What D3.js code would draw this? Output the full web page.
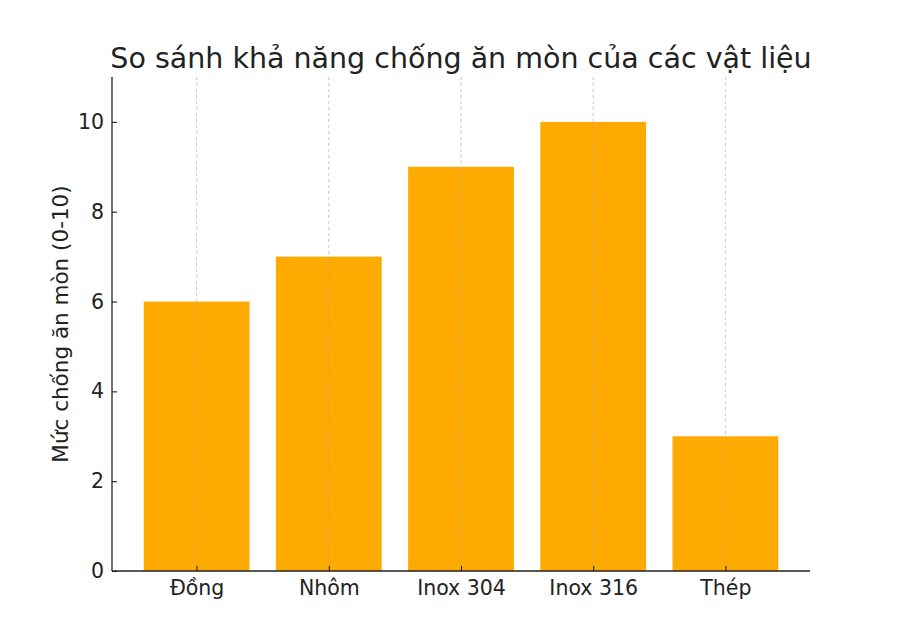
<!DOCTYPE html>
<html><head><meta charset="utf-8">
<script src="https://cdn.jsdelivr.net/npm/d3@7"></script>
<style>body{margin:0;background:#fff}</style>
</head><body>
<svg id="c" width="900" height="642"></svg>
<script>
const categories = ["Đồng", "Nhôm", "Inox 304", "Inox 316", "Thép"];
const values = [6, 7, 9, 10, 3];
const yTicks = [0, 2, 4, 6, 8, 10];
const title = "So sánh khả năng chống ăn mòn của các vật liệu";
const yLabel = "Mức chống ăn mòn (0-10)";

const svg = d3.select("#c");
const font = "DejaVu Sans, sans-serif";
const L = 112, R = 810, T = 77, B = 571;

// linear index scale mimicking matplotlib margins
const x = d3.scaleLinear().domain([-0.64, categories.length - 1 + 0.64]).range([L, R]);
const y = d3.scaleLinear().domain([0, 11]).range([B, T]);
const bw = x(0.8) - x(0);

svg.append("g").selectAll("rect").data(values).join("rect")
  .attr("x", (d, i) => x(i - 0.4)).attr("width", bw)
  .attr("y", d => y(d)).attr("height", d => y(0) - y(d))
  .attr("fill", "#ffaa00");

// vertical dashed gridlines
svg.append("g").selectAll("line").data(categories).join("line")
  .attr("x1", (d, i) => x(i)).attr("x2", (d, i) => x(i))
  .attr("y1", T).attr("y2", B)
  .attr("stroke", "#a8a8a8").attr("stroke-opacity", 0.75)
  .attr("stroke-width", 0.9).attr("stroke-dasharray", "3,3");

// y axis (inward ticks)
const ya = svg.append("g").attr("transform", `translate(${L},0)`)
  .call(d3.axisLeft(y).tickValues(yTicks).tickSize(-5).tickPadding(8).tickFormat(d3.format("d")));
ya.select(".domain").attr("d", `M0,${B}V${T}`).attr("stroke", "#222").attr("stroke-width", 1.3);
ya.selectAll(".tick line").attr("stroke", "#222").attr("stroke-width", 1.1);
ya.selectAll("text").attr("font-family", font).attr("font-size", 20.5).attr("fill", "#222");

// x axis (inward ticks)
const xa = svg.append("g").attr("transform", `translate(0,${B})`)
  .call(d3.axisBottom(x).tickValues(d3.range(categories.length)).tickSize(-5).tickPadding(9)
    .tickFormat(i => categories[i]));
xa.select(".domain").attr("d", `M${L},0H${R}`).attr("stroke", "#222").attr("stroke-width", 1.3);
xa.selectAll(".tick line").attr("stroke", "#222").attr("stroke-width", 1.1);
xa.selectAll("text").attr("font-family", font).attr("font-size", 20.5).attr("fill", "#222");

svg.append("text").attr("x", (L + R) / 2).attr("y", 68).attr("text-anchor", "middle")
  .attr("font-family", font).attr("font-size", 28.5).attr("fill", "#222").text(title);

svg.append("text").attr("transform", `translate(68,${(T + B) / 2}) rotate(-90)`)
  .attr("text-anchor", "middle").attr("font-family", font).attr("font-size", 21.5)
  .attr("fill", "#222").text(yLabel);
</script>
</body></html>
